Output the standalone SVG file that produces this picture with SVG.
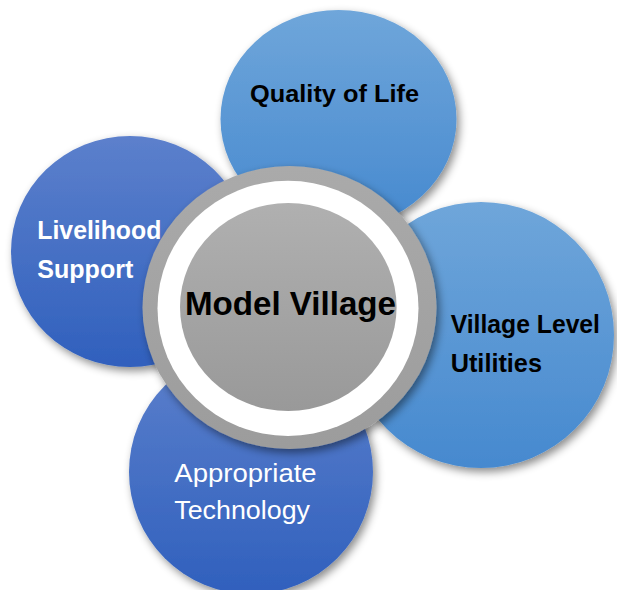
<svg xmlns="http://www.w3.org/2000/svg" width="617" height="590" viewBox="0 0 617 590">
  <defs>
    <linearGradient id="gLight" x1="0" y1="0" x2="0" y2="1">
      <stop offset="0" stop-color="#6fa6da"/>
      <stop offset="1" stop-color="#4689cf"/>
    </linearGradient>
    <linearGradient id="gDark" x1="0" y1="0" x2="0" y2="1">
      <stop offset="0" stop-color="#5c80cc"/>
      <stop offset="1" stop-color="#3060bd"/>
    </linearGradient>
    <linearGradient id="gRing" x1="0" y1="0" x2="0" y2="1">
      <stop offset="0" stop-color="#aaaaaa"/>
      <stop offset="1" stop-color="#9c9c9c"/>
    </linearGradient>
    <linearGradient id="gCore" x1="0" y1="0" x2="0" y2="1">
      <stop offset="0" stop-color="#b0b0b0"/>
      <stop offset="1" stop-color="#999999"/>
    </linearGradient>
    <filter id="shadow" x="-20%" y="-20%" width="140%" height="140%">
      <feDropShadow dx="3" dy="4" stdDeviation="4" flood-color="#000000" flood-opacity="0.45"/>
    </filter>
  </defs>
  <style>
    .lbl { font-family: "Liberation Sans", Arial, sans-serif; font-weight: bold; }
    .reg { font-family: "Liberation Sans", Arial, sans-serif; font-weight: normal; }
    .dark { fill: #000000; }
    .white { fill: #ffffff; }
  </style>
  <rect width="617" height="590" fill="#ffffff"/>
  <g id="connectors"/>
  <g id="node-quality">
    <ellipse cx="338.5" cy="119" rx="118" ry="109" fill="url(#gLight)" filter="url(#shadow)"/>
    <text class="lbl dark" x="250" y="101.7" font-size="24.5" textLength="169" lengthAdjust="spacingAndGlyphs">Quality of Life</text>
  </g>
  <g id="node-livelihood">
    <ellipse cx="130" cy="251.5" rx="119" ry="115.5" fill="url(#gDark)" filter="url(#shadow)"/>
    <text class="lbl white" x="37.3" y="239.3" font-size="25" textLength="124" lengthAdjust="spacingAndGlyphs">Livelihood</text>
    <text class="lbl white" x="37.3" y="277.7" font-size="25" textLength="96" lengthAdjust="spacingAndGlyphs">Support</text>
  </g>
  <g id="node-utilities">
    <circle cx="481" cy="335" r="133" fill="url(#gLight)" filter="url(#shadow)"/>
    <text class="lbl dark" x="450.7" y="333.3" font-size="25" textLength="149.3" lengthAdjust="spacingAndGlyphs">Village Level</text>
    <text class="lbl dark" x="450.7" y="371.7" font-size="25" textLength="91.3" lengthAdjust="spacingAndGlyphs">Utilities</text>
  </g>
  <g id="node-technology">
    <circle cx="251" cy="472" r="122" fill="url(#gDark)" filter="url(#shadow)"/>
    <text class="reg white" x="174.3" y="481.7" font-size="26.5" textLength="142.4" lengthAdjust="spacingAndGlyphs">Appropriate</text>
    <text class="reg white" x="174.3" y="519.3" font-size="26.5" textLength="135.7" lengthAdjust="spacingAndGlyphs">Technology</text>
  </g>
  <g id="node-model-village">
    <ellipse cx="289.5" cy="307.5" rx="147" ry="141.5" fill="url(#gRing)" filter="url(#shadow)"/>
    <ellipse cx="288" cy="308.3" rx="130.5" ry="127.6" fill="#ffffff"/>
    <ellipse cx="288.3" cy="307" rx="108.3" ry="104" fill="url(#gCore)"/>
    <text class="lbl dark" x="185" y="315" font-size="33" textLength="211" lengthAdjust="spacingAndGlyphs">Model Village</text>
  </g>
</svg>
